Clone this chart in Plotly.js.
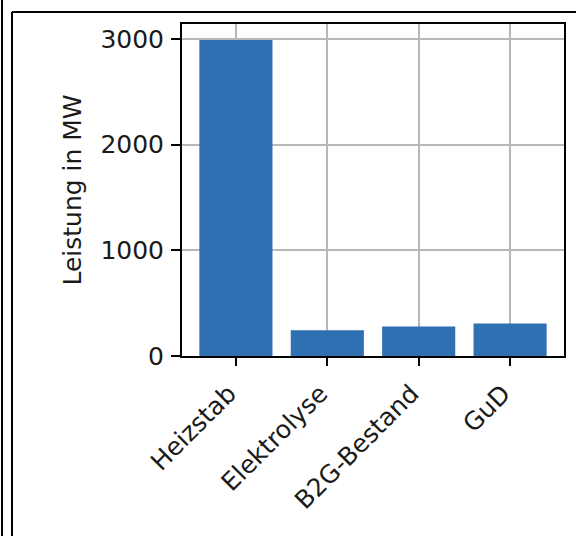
<!DOCTYPE html>
<html>
<head>
<meta charset="utf-8">
<script src="https://cdn.plot.ly/plotly-3.0.1.min.js"></script>
<style>html,body{margin:0;padding:0;background:#fff;}#chart{width:576px;height:536px;}</style>
</head>
<body>
<div id="chart"></div>
<script>
const categories = ["Heizstab", "Elektrolyse", "B2G-Bestand", "GuD"];
const leistungMW = [2990, 243, 280, 308];
const yTickVals = [0, 1000, 2000, 3000];
const yTickText = ["0", "1000", "2000", "3000"];
const yTitle = "Leistung in MW";

const W = 576, H = 536;
const M = {l: 182, r: 12, t: 24, b: 180};
const pw = W - M.l - M.r, ph = H - M.t - M.b;
const px = x => (x - M.l) / pw;
const py = y => (H - M.b - y) / ph;

const fam = "DejaVu Sans, sans-serif";
const tickFont = {family: fam, size: 25, color: "#1a1a1a"};
const titleFont = {family: fam, size: 25, color: "#1a1a1a"};

const frame = [
  {x0: px(2), x1: px(2), y0: py(0), y1: py(H)},
  {x0: px(12), x1: px(12), y0: py(12), y1: py(H)},
  {x0: px(12), x1: px(W), y0: py(12), y1: py(12)}
].map(s => Object.assign({type: "line", xref: "paper", yref: "paper", line: {color: "#000", width: 2}}, s));

Plotly.newPlot("chart", [{
  type: "bar",
  x: categories,
  y: leistungMW,
  width: 0.8,
  marker: {color: "#2e70b1", line: {width: 0}},
  hoverinfo: "none"
}], {
  width: W, height: H,
  margin: M,
  paper_bgcolor: "#fff",
  plot_bgcolor: "#fff",
  showlegend: false,
  font: tickFont,
  xaxis: {
    type: "category",
    range: [-0.59, 3.59],
    autorange: false,
    tickangle: -45,
    ticks: "outside", ticklen: 8, tickwidth: 2, tickcolor: "#000",
    ticklabelstandoff: 3,
    ticklabelshift: -7,
    showline: true, mirror: true, linecolor: "#000", linewidth: 2,
    showgrid: true, gridcolor: "#b8b8b8", gridwidth: 2,
    tickfont: tickFont,
    automargin: false
  },
  yaxis: {
    range: [0, 3142],
    autorange: false,
    tickvals: yTickVals,
    ticktext: yTickText,
    ticks: "outside", ticklen: 9, tickwidth: 2, tickcolor: "#000",
    ticklabelstandoff: 2,
    showline: true, mirror: true, linecolor: "#000", linewidth: 2,
    showgrid: true, gridcolor: "#b8b8b8", gridwidth: 2,
    zeroline: false,
    tickfont: tickFont,
    title: {text: yTitle, font: titleFont, standoff: 12},
    automargin: false
  },
  shapes: frame
}, {displayModeBar: false, staticPlot: true});
</script>
</body>
</html>
